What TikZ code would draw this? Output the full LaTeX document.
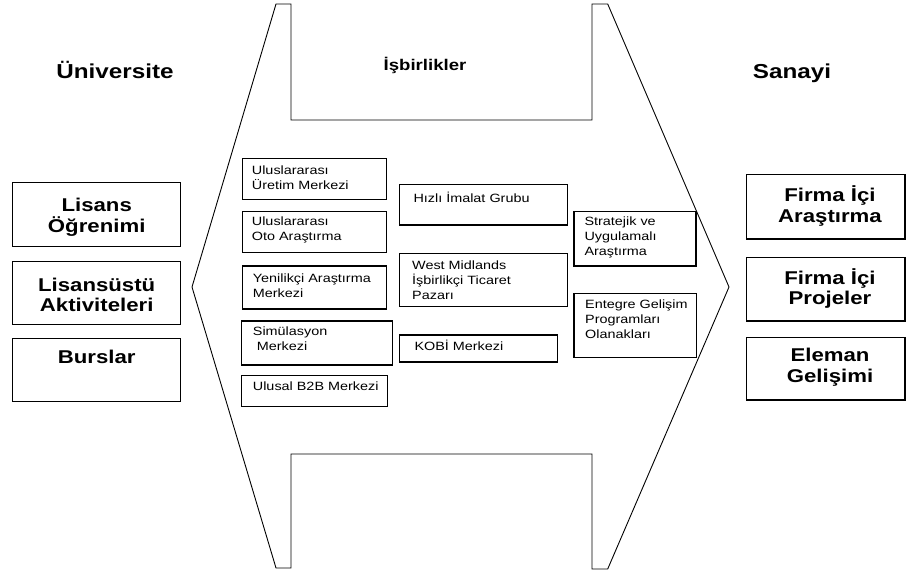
\documentclass[tikz,border=0pt]{standalone}
\usepackage{fontspec}
\setmainfont{Liberation Sans}[FakeStretch=1.2]
\begin{document}
\begin{tikzpicture}[x=1pt,y=-1pt,
  outline/.style={line width=0.9pt, line join=miter},
  box/.style={draw, line width=1.1pt, inner sep=0pt, outer sep=0pt, anchor=north west},
  bigbox/.style={draw, line width=1.4pt, inner sep=0pt, outer sep=0pt, anchor=north west},
  head/.style={font=\bfseries\fontsize{20.2}{22}\selectfont, inner sep=0pt, anchor=base},
  bigtxt/.style={font=\bfseries\fontsize{18.5}{20.8}\selectfont, inner sep=0pt, anchor=base, text width=160pt, align=center},
  smalltxt/.style={font=\fontsize{12}{15}\selectfont, inner sep=0pt, anchor=base west, text width=150pt, align=left}]
\useasboundingbox (0,0) rectangle (906,573);
% big central shape
\draw[outline] (276,4) -- (291,4) -- (291,120) -- (592,120) -- (592,4) -- (607.7,4)
  -- (729,287) -- (607.7,569) -- (592,569) -- (592,454) -- (291,454) -- (291,568)
  -- (276,568) -- (192,287) -- cycle;
% headings
\node[head] (huni) at (115,78.3) {Üniversite};
\node[head] (hsan) at (792,78) {Sanayi};
\node[head, font=\bfseries\fontsize{15.5}{17}\selectfont] (hisb) at (425,70) {İşbirlikler};
% left boxes
\node[bigbox, minimum width=168pt, minimum height=64.4pt] (l1) at (12.7,182.3) {};
\node[bigbox, minimum width=168pt, minimum height=62.6pt] (l2) at (12.7,261.7) {};
\node[bigbox, minimum width=168pt, minimum height=63.4pt] (l3) at (12.7,338.3) {};
\node[bigtxt] (l1t) at (96.7,211.7) {Lisans\\Öğrenimi};
\node[bigtxt] (l2t) at (96.7,291) {Lisansüstü\\Aktiviteleri};
\node[bigtxt] (l3t) at (96.7,363.3) {Burslar};
% right boxes
\node[bigbox, minimum width=158.3pt, minimum height=64.3pt] (r1) at (746.7,174.7) {};
\node[bigbox, minimum width=158.3pt, minimum height=63.3pt] (r2) at (746.7,257.7) {};
\node[bigbox, minimum width=158.3pt, minimum height=62.3pt] (r3) at (746.7,337.7) {};
\node[bigtxt] (r1t) at (830,201.7) {Firma İçi\\Araştırma};
\node[bigtxt] (r2t) at (830,284) {Firma İçi\\Projeler};
\node[bigtxt] (r3t) at (830,361.7) {Eleman\\Gelişimi};
% small boxes, column 1
\node[box, minimum width=144.4pt, minimum height=41pt] (u1) at (242.3,158.3) {};
\node[box, minimum width=144.4pt, minimum height=41pt] (u2) at (242.3,211.7) {};
\node[box, minimum width=144.4pt, minimum height=43pt] (u3) at (242.3,266) {};
\node[box, minimum width=150.6pt, minimum height=44pt] (u4) at (241.7,321) {};
\node[box, minimum width=146pt, minimum height=31pt] (u5) at (241.7,375.7) {};
\node[smalltxt] (u1t) at (251.7,174) {Uluslararası\\Üretim Merkezi};
\node[smalltxt] (u2t) at (251.7,225) {Uluslararası\\Oto Araştırma};
\node[smalltxt] (u3t) at (252.7,282.7) {Yenilikçi Araştırma\\Merkezi};
\node[smalltxt] (u4t) at (252.7,335.7) {Simülasyon\\~Merkezi};
\node[smalltxt] (u5t) at (252.7,390.7) {Ulusal B2B Merkezi};
% small boxes, column 2
\node[box, minimum width=168.4pt, minimum height=40.7pt] (m1) at (399.3,184.3) {};
\node[box, minimum width=168.4pt, minimum height=53.4pt] (m2) at (399.3,253.3) {};
\node[box, minimum width=158.4pt, minimum height=27pt] (m3) at (399.3,335) {};
\node[smalltxt] (m1t) at (413.3,202.7) {Hızlı İmalat Grubu};
\node[smalltxt] (m2t) at (412,269.3) {West Midlands\\İşbirlikçi Ticaret\\Pazarı};
\node[smalltxt] (m3t) at (414.3,350.7) {KOBİ Merkezi};
% small boxes, column 3
\node[box, minimum width=122pt, minimum height=54.3pt] (s1) at (574,211.7) {};
\node[box, minimum width=122.7pt, minimum height=64pt] (s2) at (574,293.3) {};
\node[smalltxt] (s1t) at (584.3,225) {Stratejik ve\\Uygulamalı\\Araştırma};
\node[smalltxt] (s2t) at (585,308.3) {Entegre Gelişim\\Programları\\Olanakları};
\end{tikzpicture}
\end{document}
